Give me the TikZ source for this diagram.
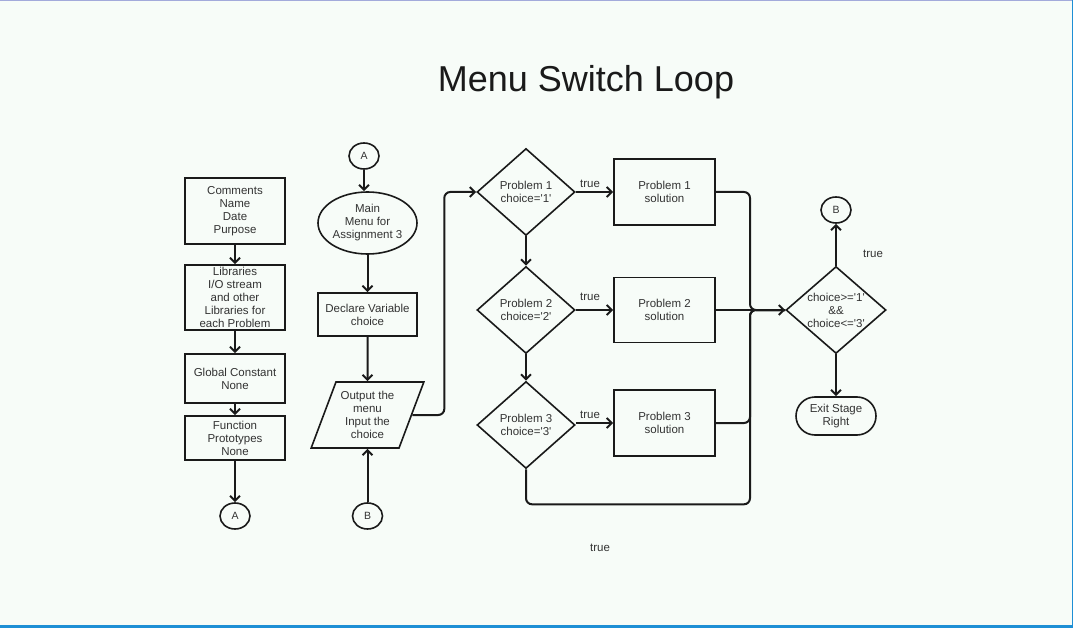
\documentclass[tikz,border=0pt]{standalone}
\usepackage{fontspec}
\setmainfont{Liberation Sans}
\usetikzlibrary{shapes.geometric,arrows.meta}
\definecolor{bg}{HTML}{F7FCF8}
\definecolor{ink}{HTML}{1A1A1A}
\definecolor{txt}{HTML}{333333}
\definecolor{rim}{HTML}{1E8FD5}
\definecolor{toprim}{HTML}{A3AADB}
\newcommand{\sq}{\textquotesingle}
\tikzset{
  every node/.style={text=txt, font=\fontsize{11.5}{13}\selectfont, align=center, inner sep=0pt},
  box/.style={draw=ink, line width=1.7pt, minimum width=100pt},
  dec/.style={diamond, draw=ink, line width=1.6pt, minimum width=98pt, minimum height=87pt, aspect=1},
  conn/.style={ellipse, draw=ink, line width=1.6pt, minimum width=30pt, minimum height=26pt, font=\fontsize{10.5}{12}\selectfont},
  io/.style={trapezium, trapezium left angle=66, trapezium right angle=114, trapezium stretches=true, draw=ink, line width=1.6pt, minimum width=113pt, minimum height=66pt},
  flow/.style={draw=ink, line width=2pt, rounded corners=6pt, -{Straight Barb[length=5pt,width=10pt]}},
  line/.style={draw=ink, line width=2pt, rounded corners=6pt}
}
\begin{document}
\begin{tikzpicture}[x=1pt, y=-1pt]
  \fill[bg] (0,0) rectangle (1073,628);
  \useasboundingbox (0,0) rectangle (1073,628);
  \draw[toprim, line width=1pt] (0,0.5) -- (1073,0.5);
  \draw[rim, line width=1pt] (1072.5,0) -- (1072.5,628);
  \draw[rim, line width=3pt] (0,626.5) -- (1073,626.5);

  \node[text=ink, font=\fontsize{36}{40}\selectfont] (title) at (586,82) {Menu Switch Loop};

  % left column
  \node[box, minimum height=66pt] (cmt) at (235,211) {Comments\\Name\\Date\\Purpose};
  \node[box, minimum height=65pt] (lib) at (235,297.5) {Libraries\\I/O stream\\and other\\Libraries for\\each Problem};
  \node[box, minimum height=49pt] (glob) at (235,378.5) {Global Constant\\None};
  \node[box, minimum height=44pt] (proto) at (235,438) {Function\\Prototypes\\None};
  \node[conn] (a1) at (235,516) {A};
  \draw[flow] (cmt) -- (lib);
  \draw[flow] (lib) -- (glob);
  \draw[flow] (glob) -- (proto);
  \draw[flow] (proto) -- (a1);

  % main column
  \node[conn] (a2) at (364,156) {A};
  \node[ellipse, draw=ink, line width=1.6pt, minimum width=99pt, minimum height=62pt] (menu) at (367.5,223) {Main\\Menu for\\Assignment 3};
  \node[box, minimum width=99pt, minimum height=43pt] (decl) at (367.5,314.5) {Declare Variable\\choice};
  \node[io] (inout) at (367.5,415) {Output the\\menu\\Input the\\choice};
  \node[conn] (b1) at (367.5,516) {B};
  \draw[flow] (a2.south) -- (a2.south |- menu.north);
  \draw[flow] (menu) -- (decl);
  \draw[flow] (decl) -- (inout);
  \draw[flow] (b1) -- (inout);

  % problems
  \node[dec] (p1) at (526,192) {Problem 1\\choice=\sq1\sq};
  \node[dec] (p2) at (526,310) {Problem 2\\choice=\sq2\sq};
  \node[dec] (p3) at (526,425) {Problem 3\\choice=\sq3\sq};
  \node[box, minimum width=101pt, minimum height=66pt] (s1) at (664.5,192) {Problem 1\\solution};
  \node[box, minimum width=101pt, minimum height=65pt] (s2) at (664.5,310) {Problem 2\\solution};
  \node[box, minimum width=101pt, minimum height=66pt] (s3) at (664.5,423) {Problem 3\\solution};
  \node (t1) at (590,184) {true};
  \node (t2) at (590,297) {true};
  \node (t3) at (590,415) {true};
  \draw[flow] (inout.east) -- ++(32,0) |- (p1.west);
  \draw[flow] (p1) -- (s1);
  \draw[flow] (p2) -- (s2);
  \draw[flow] (s3.west -| p3.east) -- (s3.west);
  \draw[flow] (p1) -- (p2);
  \draw[flow] (p2) -- (p3);

  % check
  \node[dec, minimum width=100pt] (chk) at (836,310) {};
  \node (chktxt) at (chk) {choice>=\sq1\sq\\\&\&\\choice<=\sq3\sq};
  \node[conn] (b2) at (836,210) {B};
  \node[draw=ink, line width=1.6pt, rounded corners=19pt, minimum width=80pt, minimum height=38pt] (exit) at (836,416) {Exit Stage\\Right};
  \node (t4) at (873,254) {true};
  \node (t5) at (600,548) {true};
  \coordinate (jn) at (750,310);
  \draw[line] (s1.east) -| (jn) -- (chk.west);
  \draw[line] (s3.east) -| (jn) -- (chk.west);
  \draw[line] (p3.south) -- ++(0,35) -| (jn) -- (chk.west);
  \draw[flow] (s2) -- (chk);
  \draw[flow] (chk) -- (b2);
  \draw[flow] (chk) -- (exit);
\end{tikzpicture}
\end{document}
